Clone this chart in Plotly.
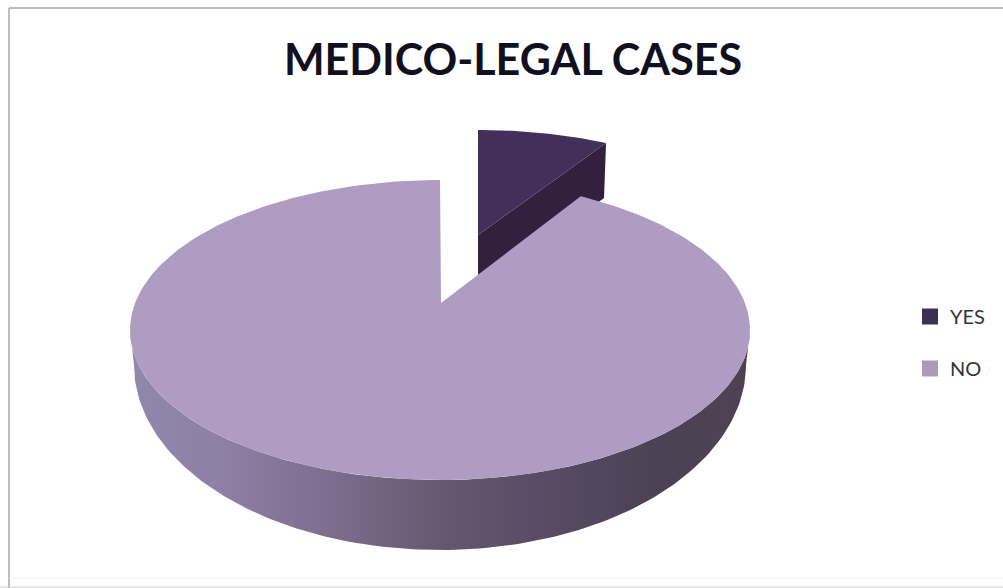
import numpy as np
import plotly.graph_objects as go

#Dados
labels = ['YES', 'NO']
values = [7.5, 92.5]
title_text = 'MEDICO-LEGAL CASES'

#Cores
yes_top = '#43305A'
yes_side = '#33203F'
no_top = '#AE9CC2'
yes_legend = '#3B2F52'
no_legend = '#A89BB8'
frame_color = '#BDBDBD'
side_scale = [
    [0.00, '#9088AE'],
    [0.15, '#8E7FA5'],
    [0.35, '#7A6A8A'],
    [0.50, '#655870'],
    [0.65, '#5A4C66'],
    [0.85, '#4B4255'],
    [1.00, '#4F4252'],
]

#Geometria do pie em perspectiva (pixels da pagina)
apex_x, apex_y = 441, 303
top_cx, top_cy, top_rx, top_ry = 440, 330, 310, 150
bot_cx, bot_cy, bot_rx, bot_ry = 440, 365, 306, 185
yes_apex_x, yes_apex_y = 478, 235
yes_cy, yes_rx, yes_ry = 250, 282, 120
yes_depth = 55


def rim(cx, cy, rx, ry, t):
    return cx + rx * np.sin(t), cy - ry * np.cos(t)


sweep = 2 * np.pi * values[0] / sum(values)
fig = go.Figure()

#Fatia YES (deslocada)
t_yes = np.linspace(0, sweep, 40)
yx, yy = rim(yes_apex_x, yes_cy, yes_rx, yes_ry, t_yes)
fig.add_trace(go.Scatter(
    x=[yes_apex_x, yx[-1], yx[-1] - 2, yes_apex_x, yes_apex_x],
    y=[yes_apex_y, yy[-1], yy[-1] + yes_depth, yes_apex_y + yes_depth, yes_apex_y],
    mode='lines', line_width=0, fill='toself', fillcolor=yes_side,
    showlegend=False, hoverinfo='skip',
))
fig.add_trace(go.Scatter(
    x=np.r_[yes_apex_x, yx, yes_apex_x],
    y=np.r_[yes_apex_y, yy, yes_apex_y],
    mode='lines', line_width=0, fill='toself', fillcolor=yes_top,
    showlegend=False, hoverinfo='skip',
))

#Lateral da fatia NO, com gradiente
t_side = np.linspace(np.pi / 2, 3 * np.pi / 2, 160)
sx_top, sy_top = rim(top_cx, top_cy, top_rx, top_ry, t_side)
sx_bot, sy_bot = rim(bot_cx, bot_cy, bot_rx, bot_ry, t_side)
fig.add_trace(go.Scatter(
    x=np.r_[sx_top, sx_bot[::-1]],
    y=np.r_[sy_top, sy_bot[::-1]],
    mode='lines', line_width=0, fill='toself',
    fillgradient=dict(type='horizontal', colorscale=side_scale),
    showlegend=False, hoverinfo='skip',
))

#Topo da fatia NO
t_no = np.linspace(sweep, 2 * np.pi, 400)
nx, ny = rim(top_cx, top_cy, top_rx, top_ry, t_no)
fig.add_trace(go.Scatter(
    x=np.r_[apex_x, nx, apex_x],
    y=np.r_[apex_y, ny, apex_y],
    mode='lines', line_width=0, fill='toself', fillcolor=no_top,
    showlegend=False, hoverinfo='skip',
))

#Legenda
for label, color in zip(labels, [yes_legend, no_legend]):
    fig.add_trace(go.Scatter(
        x=[None], y=[None], mode='markers', name=label, legendgroup=label,
        marker=dict(symbol='square', size=16, color=color),
    ))

fig.update_layout(
    width=1003, height=588,
    margin=dict(l=0, r=0, t=0, b=0),
    paper_bgcolor='white', plot_bgcolor='white',
    xaxis=dict(range=[0, 1003], visible=False, fixedrange=True),
    yaxis=dict(range=[588, 0], visible=False, fixedrange=True),
    title=dict(text='<b>' + title_text + '</b>', x=513 / 1003, xanchor='center',
               y=1 - 60 / 588, yanchor='middle',
               font=dict(family='Lato', size=43, color='#10101F')),
    legend=dict(x=910 / 1003, y=1 - 297 / 588, xanchor='left', yanchor='top',
                tracegroupgap=23, bgcolor='rgba(0,0,0,0)',
                font=dict(family='Lato', size=20, color='#333340')),
    shapes=[
        dict(type='line', xref='x', yref='y', x0=9, y0=8, x1=1003, y1=8,
             line=dict(color=frame_color, width=2), layer='below'),
        dict(type='line', xref='x', yref='y', x0=9, y0=8, x1=9, y1=588,
             line=dict(color=frame_color, width=2), layer='below'),
        dict(type='line', xref='x', yref='y', x0=9, y0=578, x1=1003, y1=578,
             line=dict(color='#F2F2F2', width=1), layer='below'),
        dict(type='line', xref='x', yref='y', x0=0, y0=587, x1=1003, y1=587,
             line=dict(color='#CCCCCC', width=1), layer='below'),
    ],
)

fig.write_html('out.html', config={'displayModeBar': False},
               post_script="document.body.style.margin='0';")
